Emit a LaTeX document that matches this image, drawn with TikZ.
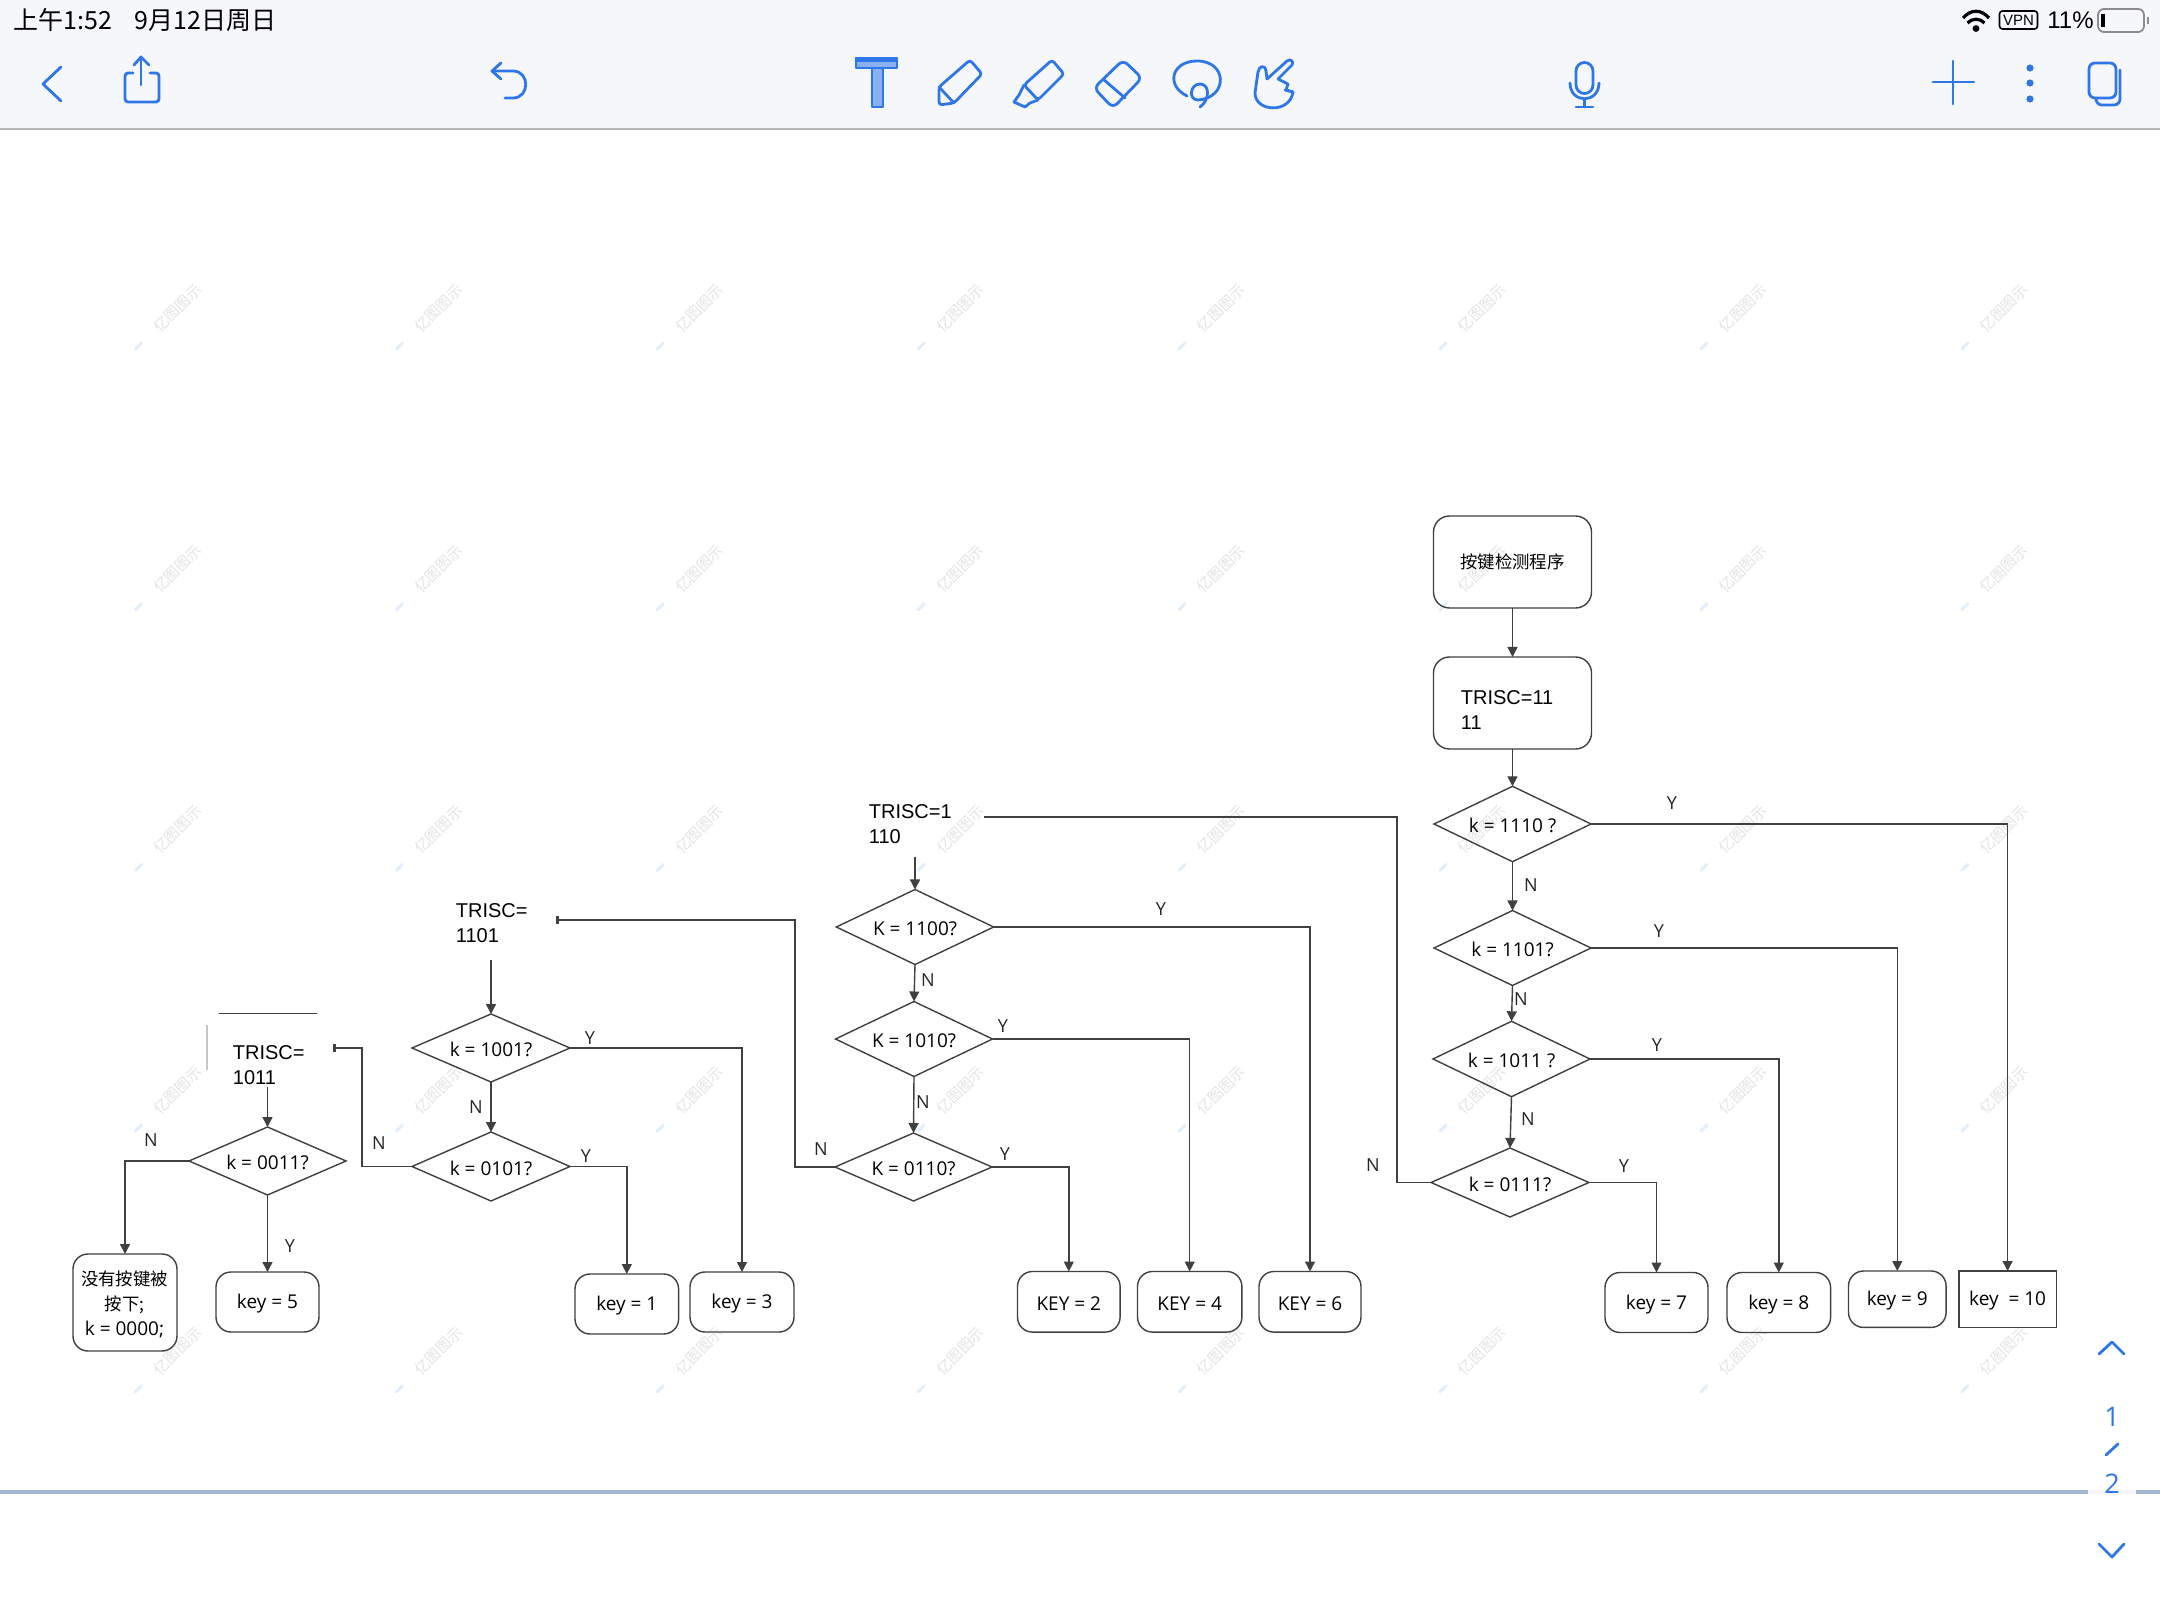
\documentclass[tikz,border=0pt]{standalone}
\usepackage{fontspec}
\setmainfont{Open Sans}
\newfontfamily\cjkf{Noto Sans CJK SC}
\newfontfamily\arialf{Liberation Sans}
\usetikzlibrary{arrows.meta,shapes.geometric}
\definecolor{barbg}{HTML}{F6F7FB}
\definecolor{uiblue}{HTML}{2F76E8}
\definecolor{uifill}{HTML}{8AB0F0}
\definecolor{ink}{HTML}{404040}
\definecolor{wmgray}{HTML}{E4E4E4}
\definecolor{wmblue}{HTML}{E3EEFC}
\definecolor{pagerule}{HTML}{A4B5D3}
\newcommand{\dt}[1]{\raisebox{-0.9pt}[\height][\depth]{#1}}
\tikzset{
  x=0.5pt,y=-0.5pt,
  flow/.style={draw=ink,line width=0.7pt},
  arrowline/.style={flow,-{Triangle[length=5pt,width=5pt]}},
  barline/.style={flow,-{Bar[width=4pt,line width=1.5pt]}},
  roundbox/.style={draw=ink,line width=0.7pt,rounded corners=7.5pt,inner sep=0pt,outer sep=0pt,font=\fontsize{9.5}{12}\selectfont,anchor=north west},
  squarebox/.style={draw=ink,line width=0.8pt,inner sep=0pt,outer sep=0pt,font=\fontsize{9.5}{12}\selectfont,anchor=north west},
  decision/.style={draw=ink,line width=0.7pt,shape=diamond,shape aspect=2,inner sep=0pt,outer sep=0pt,font=\fontsize{9.5}{12}\selectfont},
  cjktext/.style={font=\cjkf\fontsize{8.7}{12.5}\selectfont},
  trisc/.style={anchor=west,inner sep=0pt,align=left,font=\arialf\fontsize{10}{12.5}\selectfont},
  lab/.style={inner sep=0pt,font=\fontsize{9}{11}\selectfont,text=black!85},
  watermark/.style={inner sep=0pt,rotate=45,text=wmgray,font=\cjkf\fontsize{7.5}{9}\selectfont},
  icon/.style={draw=uiblue,line width=1.4pt,line cap=round,line join=round},
  statustext/.style={inner sep=0pt,text=black,font=\cjkf\fontsize{12.5}{14}\selectfont},
  pagertext/.style={inner sep=0pt,text=uiblue,font=\fontsize{13.5}{15}\selectfont},
  kbox/.style={roundbox,minimum width=51.5pt,minimum height=30pt},
}
\begin{document}
\begin{tikzpicture}
\useasboundingbox (0,0) rectangle (2160,1620);
\fill[white] (0,0) rectangle (2160,1620);
% top bar
\fill[barbg] (0,0) rectangle (2160,129);
\draw[black!28,line width=0.8pt] (0,129) -- (2160,129);
% watermark
\foreach \i in {0,...,7}{\foreach \j in {0,...,4}{
  \pgfmathsetmacro{\wx}{177.5+260.9*\i}
  \pgfmathsetmacro{\wy}{308+260.7*\j}
  \node[watermark] (wm\i\j) at (\wx,\wy) {亿图图示};
  \draw[wmblue,line width=1.5pt,line cap=round] (\wx-42,\wy+41) -- (\wx-36,\wy+35);
}}
% page rule
\fill[pagerule] (0,1490) rectangle (2088,1494);
\fill[barbg] (2088,1490) rectangle (2136,1494);
\fill[pagerule] (2136,1490) rectangle (2160,1494);
% status bar
\node[statustext,anchor=west] (clock) at (13,20) {上午1:52\hspace{0.9em}9月12日周日};
\fill[black] (1976,28.5) circle (1.7pt);
\draw[black,line width=1.6pt] (1963,18) .. controls (1971,9) and (1981,9) .. (1989,18);
\draw[black,line width=1.6pt] (1967.5,23) .. controls (1972,18) and (1980,18) .. (1984.5,23);
\node[draw=black,line width=0.8pt,rounded corners=1.5pt,inner sep=0pt,minimum width=19pt,minimum height=9pt,font=\arialf\fontsize{7.5}{8}\selectfont] (vpn) at (2018.5,20) {VPN};
\node[inner sep=0pt,anchor=west,font=\arialf\fontsize{12}{14}\selectfont] (batt) at (2047,20) {11\%};
\draw[black!45,line width=0.9pt,rounded corners=3pt] (2098,9) rectangle (2144,32);
\fill[black] (2101,14) rectangle (2105,27);
\fill[black!45] (2147,17) rectangle (2149,24);
% toolbar icons
\draw[icon] (61,67) -- (43,84) -- (61,101);
\draw[icon,rounded corners=1.5pt] (133,73) -- (125,73) -- (125,102) -- (159,102) -- (159,73) -- (150,73);
\draw[icon] (141,85) -- (141,57);
\draw[icon] (134,65) -- (141,57) -- (149,65);
\draw[icon] (501,63) -- (492,71) -- (501,79);
\draw[icon] (492,71) -- (513,71) .. controls (530,71) and (530,98) .. (513,98) -- (505,98);
\draw[icon,fill=uifill] (856,58) rectangle (897,68);
\draw[icon,fill=uifill] (872,68) rectangle (883,107);
\draw[icon,fill=uiblue] (856,58) rectangle (897,61);
\draw[icon,rounded corners=1.5pt] (939,105) -- (939,87) -- (970,60) -- (982,74) -- (954,103) -- cycle;
\draw[icon] (939,87) -- (954,103);
\draw[icon,rounded corners=1.5pt] (1024,85) -- (1052,60) -- (1064,74) -- (1038,100) -- cycle;
\draw[icon] (1024,85) -- (1019,95) -- (1014,102) -- (1025,107) -- (1030,103) -- (1038,100);
\draw[icon,rounded corners=3pt] (1094,88) -- (1123,60) -- (1142,78) -- (1113,108) -- cycle;
\draw[icon] (1103,79) -- (1125,98);
\draw[icon] (1187,96) .. controls (1165,85) and (1172,61) .. (1197,61) .. controls (1228,61) and (1228,98) .. (1198,100) .. controls (1188,100) and (1190,84) .. (1200,84) .. controls (1210,84) and (1210,100) .. (1200,107);
\draw[icon] (1267,79) -- (1287,61) .. controls (1291,58) and (1294,62) .. (1292,65) -- (1278,79);
\draw[icon] (1267,79) -- (1266,71) .. controls (1265,64) and (1259,66) .. (1258,72) -- (1255,93) .. controls (1255,112) and (1290,114) .. (1293,92) -- (1285,90);
\draw[icon] (1278,79) -- (1288,84) -- (1286,90) -- (1293,92);
\draw[icon] (1576,71) arc[start angle=180,end angle=0,radius=4.25pt] -- (1593,85) arc[start angle=0,end angle=-180,radius=4.25pt] -- cycle;
\draw[icon] (1570,83) .. controls (1570,104) and (1599,104) .. (1599,83);
\draw[icon] (1584.5,99) -- (1584.5,107);
\draw[icon] (1576,107) -- (1593,107);
\draw[icon] (1933,82) -- (1974,82);
\draw[icon] (1953,61) -- (1953,104);
\fill[uiblue] (2030,68) circle (1.8pt) (2030,83) circle (1.8pt) (2030,99) circle (1.8pt);
\draw[icon,rounded corners=3pt] (2089,63) rectangle (2116,98);
\draw[icon,rounded corners=3pt] (2120,70) -- (2120,105) -- (2096,105) -- (2096,98);
% pager
\draw[icon] (2099,1354) -- (2112,1342) -- (2124,1354);
\node[pagertext] (pageone) at (2112,1417) {1};
\draw[icon] (2106,1455) -- (2118,1444);
\node[pagertext] (pagetwo) at (2112,1484) {2};
\draw[icon] (2099,1544) -- (2112,1557) -- (2124,1544);

% === boxes
\node[roundbox,cjktext,rounded corners=8pt,minimum width=79pt,minimum height=46pt] (start) at (1433.5,516) {按键检测程序};
\node[roundbox,rounded corners=8pt,minimum width=79pt,minimum height=46pt] (t1111box) at (1433.5,657) {};
\node[trisc] (t1111) at (1460.5,710.5) {TRISC=11\\11};

\node[kbox] (key7) at (1605,1272.5) {\dt{key = 7}};
\node[kbox,minimum width=51.8pt] (key8) at (1727,1272.5) {\dt{key = 8}};
\node[kbox,minimum height=28.2pt,minimum width=48.8pt] (key9) at (1848.5,1271) {\dt{key = 9}};
\node[squarebox,minimum height=28.2pt,minimum width=48.9pt] (key10) at (1958.7,1271) {\dt{key\ \ = 10}};
\node[kbox,minimum width=51.3pt,minimum height=30.3pt] (key2) at (1017.5,1271.5) {\dt{KEY = 2}};
\node[kbox,minimum width=52.2pt,minimum height=30.3pt] (key4) at (1137.5,1271.5) {\dt{KEY = 4}};
\node[kbox,minimum width=51pt,minimum height=30.3pt] (key6) at (1259,1271.5) {\dt{KEY = 6}};
\node[kbox,minimum width=51.8pt] (key1) at (575,1274) {\dt{key = 1}};
\node[kbox,minimum width=52pt] (key3) at (690,1272) {\dt{key = 3}};
\node[kbox,minimum width=51.5pt] (key5) at (216,1272) {\dt{key = 5}};
\node[roundbox,minimum width=52pt,minimum height=48.5pt] (none) at (73,1254) {};
\node[inner sep=0pt,align=center,font=\cjkf\fontsize{8.7}{12.5}\selectfont] (nonetext) at (124.5,1304) {没有按键被\\按下;\hspace*{5.5pt}\\{\fontspec{Open Sans}\fontsize{9.5}{12.5}\selectfont k = 0000;}};

% === decisions
\node[decision,minimum width=78.5pt,minimum height=37.7pt] (d1110) at (1512.5,824) {\dt{k = 1110 ?}};
\node[decision,minimum width=78.5pt,minimum height=37.5pt] (d1101) at (1512.5,948) {\dt{k = 1101?}};
\node[decision,minimum width=78.5pt,minimum height=37.7pt] (d1011) at (1511.5,1059) {\dt{k = 1011 ?}};
\node[decision,minimum width=79pt,minimum height=34.5pt] (d0111) at (1510,1182.5) {\dt{k = 0111?}};
\node[decision,minimum width=78.7pt,minimum height=37.5pt] (d1100) at (915,927) {\dt{K = 1100?}};
\node[decision,minimum width=78.5pt,minimum height=37.5pt] (d1010) at (914,1039) {\dt{K = 1010?}};
\node[decision,minimum width=78.5pt,minimum height=34pt] (d0110) at (913.5,1167) {\dt{K = 0110?}};
\node[decision,minimum width=79pt,minimum height=34pt] (d1001) at (491,1048) {\dt{k = 1001?}};
\node[decision,minimum width=79pt,minimum height=34.5pt] (d0101) at (491,1166.5) {\dt{k = 0101?}};
\node[decision,minimum width=78.5pt,minimum height=34pt] (d0011) at (267.5,1161) {\dt{k = 0011?}};

% === TRISC labels
\node[trisc] (t1110) at (868.5,824) {TRISC=1\\110};
\node[trisc] (t1101) at (455.5,923) {TRISC=\\1101};
\node[trisc] (t1011) at (232.5,1065.5) {TRISC=\\1011};

% === free ends
\coordinate (e1110) at (984,817);
\coordinate (e1101) at (556,920);
\coordinate (e1011) at (333,1048);
\coordinate (f1110) at (915,857);
\coordinate (f1101) at (491,960);
\coordinate (f1011) at (267.5,1087);
\coordinate (c1) at (1397,817);
\coordinate (c2) at (795,920);
\coordinate (c3) at (362,1048);

% === connectors
\draw[arrowline] (start.south) -- (t1111box.north);
\draw[arrowline] (t1111box.south) -- (d1110.north);
\draw[arrowline] (d1110.south) -- (d1101.north);
\draw[arrowline] (d1101.south) -- (d1011.north);
\draw[arrowline] (d1011.south) -- (d0111.north);
\draw[arrowline] (d1110.east) -| (key10.north);
\draw[arrowline] (d1101.east) -| (key9.north);
\draw[arrowline] (d1011.east) -| (key8.north);
\draw[arrowline] (d0111.east) -| (key7.north);
\draw[flow] (d0111.west) -| (c1) -- (e1110);
\draw[arrowline] (f1110) -- (d1100.north);
\draw[arrowline] (d1100.south) -- (d1010.north);
\draw[arrowline] (d1010.south) -- (d0110.north);
\draw[arrowline] (d1100.east) -| (key6.north);
\draw[arrowline] (d1010.east) -| (key4.north);
\draw[arrowline] (d0110.east) -| (key2.north);
\draw[barline] (d0110.west) -| (c2) -- (e1101);
\draw[arrowline] (f1101) -- (d1001.north);
\draw[arrowline] (d1001.south) -- (d0101.north);
\draw[arrowline] (d1001.east) -| (key3.north);
\draw[arrowline] (d0101.east) -| (key1.north);
\draw[barline] (d0101.west) -| (c3) -- (e1011);
\draw[arrowline] (f1011) -- (d0011.north);
\draw[arrowline] (d0011.west) -| (none.north);
\draw[arrowline] (d0011.south) -- (key5.north);

% === stray lines near TRISC=1011
\draw[ink,line width=0.5pt] (219,1013) -- (317,1013);
\draw[black!22,line width=0.6pt] (207,1025) -- (207,1070);

% === Y / N labels
\node[lab] (l1) at (1672,803) {Y};
\node[lab] (l2) at (1531,885) {N};
\node[lab] (l3) at (1659,931) {Y};
\node[lab] (l4) at (1521,999) {N};
\node[lab] (l5) at (1657,1045.5) {Y};
\node[lab] (l6) at (1528,1119) {N};
\node[lab] (l7) at (1624,1166) {Y};
\node[lab] (l8) at (1373,1165.5) {N};
\node[lab] (l9) at (1161,909) {Y};
\node[lab] (l10) at (928,980) {N};
\node[lab] (l11) at (1003,1026) {Y};
\node[lab] (l12) at (923,1102) {N};
\node[lab] (l13) at (1005,1154) {Y};
\node[lab] (l14) at (821,1149) {N};
\node[lab] (l15) at (590,1038) {Y};
\node[lab] (l16) at (476,1107) {N};
\node[lab] (l17) at (586,1156) {Y};
\node[lab] (l18) at (379,1143) {N};
\node[lab] (l19) at (151,1140) {N};
\node[lab] (l20) at (290,1246) {Y};
\end{tikzpicture}
\end{document}
